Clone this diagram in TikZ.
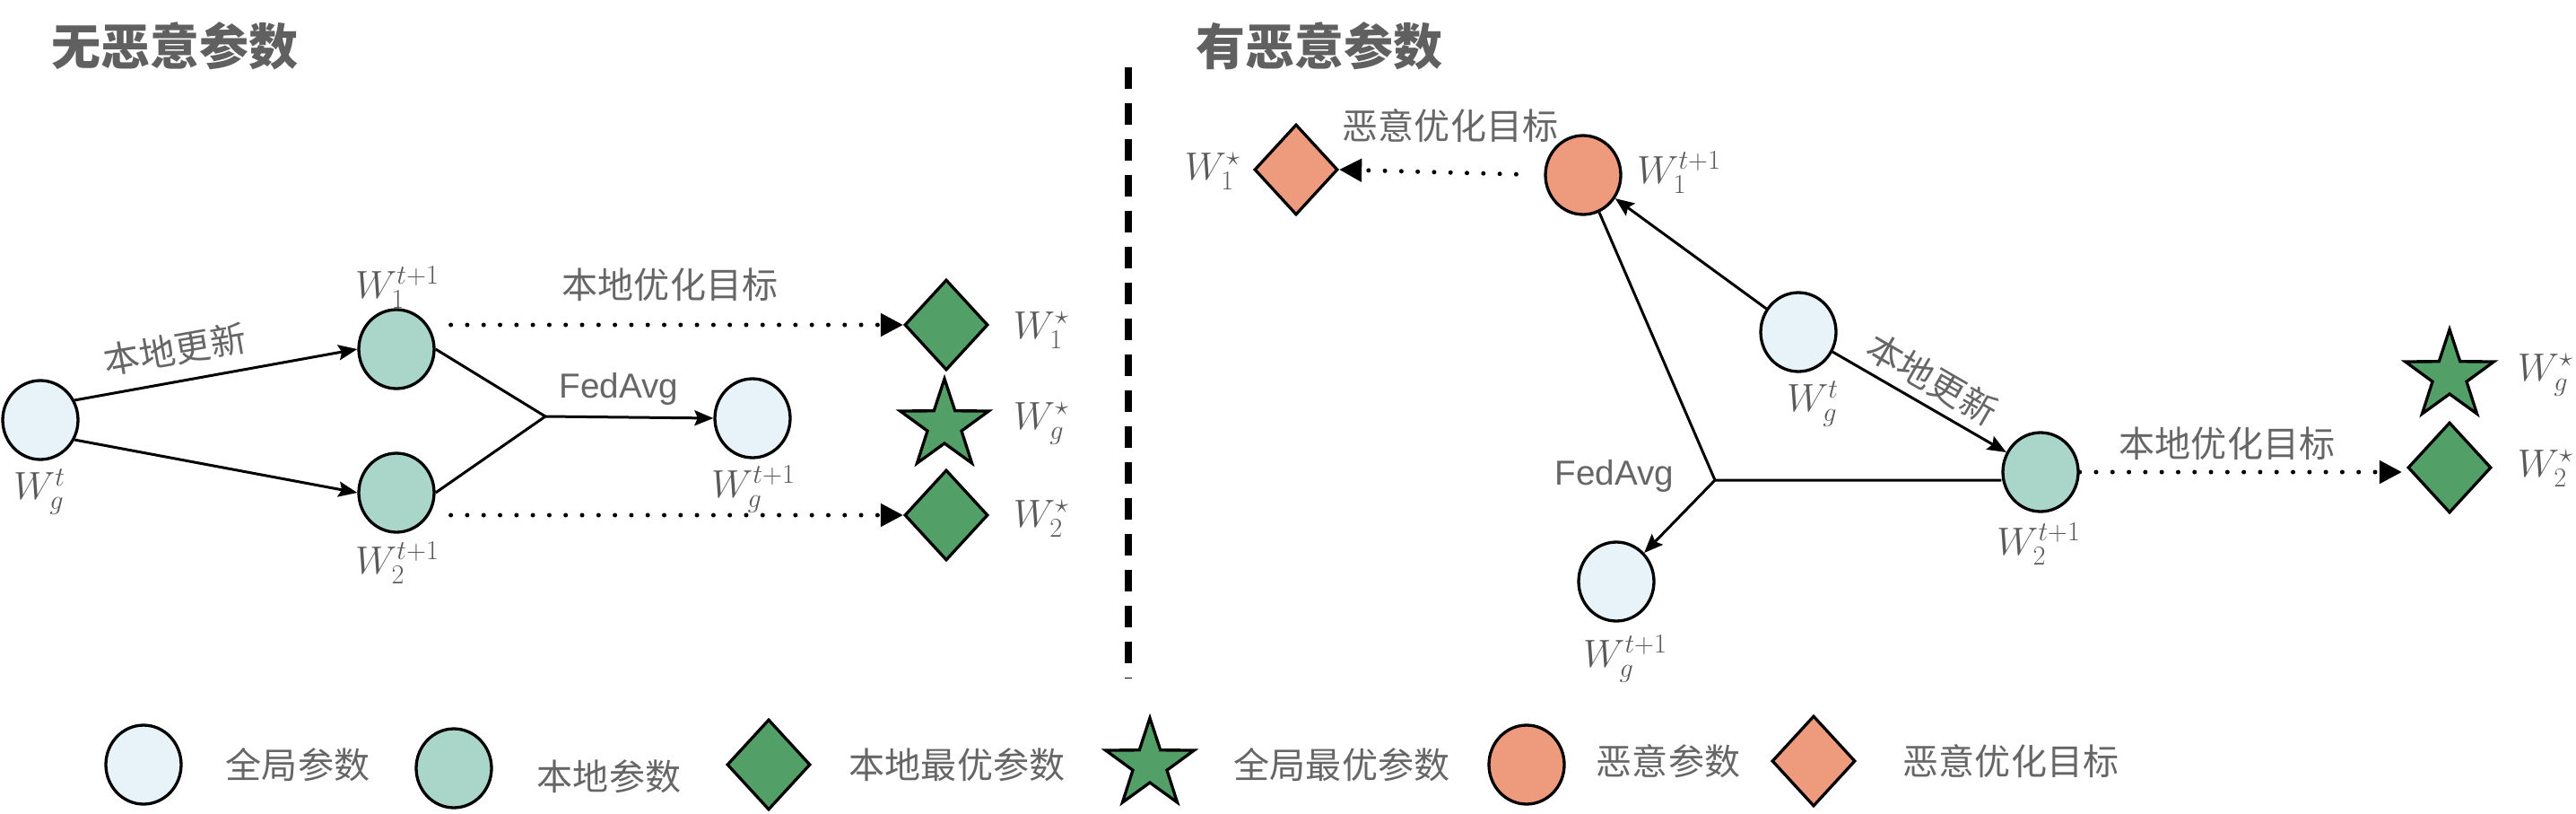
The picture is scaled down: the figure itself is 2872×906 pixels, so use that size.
\documentclass[tikz,border=0pt]{standalone}
\usepackage{fontspec}
\usetikzlibrary{shapes.geometric,arrows.meta,calc}
\newfontfamily\cjk{Noto Sans CJK SC}
\newfontfamily\lsans{Liberation Sans}
\definecolor{lblue}{HTML}{E8F3F9}
\definecolor{lteal}{HTML}{A9D6C9}
\definecolor{dgreen}{HTML}{52A068}
\definecolor{morange}{HTML}{EE9A7C}
\definecolor{tgray}{HTML}{666666}
\definecolor{mgray}{HTML}{5A5A5A}
\definecolor{titlegray}{HTML}{606060}
\begin{document}
\begin{tikzpicture}[x=0.02cm,y=-0.02cm,
  pbase/.style={ellipse, draw, line width=0.066cm, minimum width=1.68cm, minimum height=1.76cm, inner sep=0pt},
  gparam/.style={pbase, fill=lblue},
  lparam/.style={pbase, fill=lteal},
  mparam/.style={pbase, fill=morange},
  dbase/.style={diamond, draw, line width=0.066cm, minimum width=1.86cm, minimum height=2.02cm, inner sep=0pt},
  optd/.style={dbase, fill=dgreen},
  mopt/.style={dbase, fill=morange},
  gstar/.style={star, star points=5, star point ratio=2.6, draw, line width=0.066cm, fill=dgreen, minimum size=2.08cm, inner sep=0pt},
  lbl/.style={text=tgray, font=\cjk\fontsize{22.8}{26}\selectfont, inner sep=0pt},
  ttl/.style={text=titlegray, font=\cjk\bfseries\fontsize{31.3}{36}\selectfont, inner sep=0pt},
  fedlbl/.style={text=tgray, font=\lsans\fontsize{22}{26}\selectfont, inner sep=0pt},
  mlbl/.style={text=mgray, font=\fontsize{26.5}{31}\selectfont, inner sep=0pt},
  arr/.style={line width=0.06cm, -{Stealth[length=0.42cm,width=0.34cm,inset=0.07cm]}},
  conn/.style={line width=0.06cm},
  dotarr/.style={line width=0.1cm, line cap=round, dash pattern=on 0pt off 0.366cm, -{Triangle[length=0.5cm,width=0.5cm]}},
  divider/.style={line width=0.16cm, dash pattern=on 0.48cm off 0.32cm}
]
\useasboundingbox (0,0) rectangle (2872,906);

% titles
\node[ttl] (title1) at (195,51) {无恶意参数};
\node[ttl] (title2) at (1471,51) {有恶意参数};

% divider
\coordinate (dv1) at (1258,75);
\coordinate (dv2) at (1258,755);
\draw[divider] (dv1) -- (dv2);

% ---------- left panel ----------
\node[gparam] (wg) at (45,468) {};
\node[lparam] (w1) at (442,389) {};
\node[lparam] (w2) at (442,549) {};
\node[gparam] (wgn) at (839,466) {};
\node[optd] (d1) at (1055,362) {};
\node[gstar] (s1) at (1053,474) {};
\node[optd] (d2) at (1055,574) {};
\coordinate (j1) at (608,464);

\node[mlbl] (lwg) at (44,548) {$W_g^t$};
\node[mlbl] (lw1) at (443,320) {$W_1^{t+1}$};
\node[mlbl] (lw2) at (443,627) {$W_2^{t+1}$};
\node[mlbl] (lwgn) at (840,545) {$W_g^{t+1}$};
\node[mlbl] (ld1) at (1161,368) {$W_1^{\star}$};
\node[mlbl] (ls1) at (1161,472) {$W_g^{\star}$};
\node[mlbl] (ld2) at (1161,578) {$W_2^{\star}$};
\node[lbl, rotate=10] (tupd) at (195,389) {本地更新};
\node[lbl] (tobj) at (747,317) {本地优化目标};
\node[fedlbl] (tfed) at (690,433) {FedAvg};

\draw[arr] (wg.30) -- (w1.west);
\draw[arr] (wg.-30) -- (w2.west);
\draw[conn] (w1.east) -- (j1) -- (w2.east);
\draw[arr] (j1) -- (wgn.west);
\draw[dotarr, shorten <=0.34cm] (w1.east |- d1.west) -- (d1.west);
\draw[dotarr, shorten <=0.34cm] (w2.east |- d2.west) -- (d2.west);

% ---------- right panel ----------
\node[mparam] (m1) at (1765,195) {};
\node[mopt] (od) at (1445,189) {};
\node[gparam] (rwg) at (2005,370) {};
\node[lparam] (rw2) at (2275,526) {};
\node[gparam] (rwgn) at (1802,648) {};
\node[gstar] (s2) at (2731,419) {};
\node[optd] (gd2) at (2731,521) {};
\coordinate (j2) at (1912,535);

\node[mlbl] (lod) at (1352,191) {$W_1^{\star}$};
\node[mlbl] (lm1) at (1872,192) {$W_1^{t+1}$};
\node[mlbl] (lrwg) at (2021,450) {$W_g^t$};
\node[mlbl] (lrw2) at (2273,606) {$W_2^{t+1}$};
\node[mlbl] (lrwgn) at (1812,734) {$W_g^{t+1}$};
\node[mlbl] (ls2) at (2838,418) {$W_g^{\star}$};
\node[mlbl] (lgd2) at (2838,522) {$W_2^{\star}$};
\node[lbl] (tmobj) at (1617,140) {恶意优化目标};
\node[lbl, rotate=-30] (tupd2) at (2154,422) {本地更新};
\node[lbl] (tobj2) at (2483,494) {本地优化目标};
\node[fedlbl] (tfed2) at (1800,530) {FedAvg};

\draw[arr] (rwg) -- (m1);
\draw[arr] (rwg) -- (rw2);
\draw[conn] (m1) -- (j2) -- (j2 -| rw2.west);
\draw[arr] (j2) -- (rwgn);
\draw[dotarr, shorten <=0.62cm] (m1.west) -- (od.east);
\draw[dotarr, shorten >=0.1cm] (rw2.east) -- (rw2.east -| gd2.west);

% ---------- legend ----------
\node[gparam] (lg1) at (160,852) {};
\node[lbl] (lgt1) at (332,852) {全局参数};
\node[lparam] (lg2) at (506,856) {};
\node[lbl] (lgt2) at (679,865) {本地参数};
\node[optd] (lg3) at (857,852) {};
\node[lbl] (lgt3) at (1067,852) {本地最优参数};
\node[gstar] (lg4) at (1282,852) {};
\node[lbl] (lgt4) at (1496,852) {全局最优参数};
\node[mparam] (lg5) at (1702,852) {};
\node[lbl] (lgt5) at (1860,848) {恶意参数};
\node[mopt] (lg6) at (2022,848) {};
\node[lbl] (lgt6) at (2242,848) {恶意优化目标};
\end{tikzpicture}
\end{document}
